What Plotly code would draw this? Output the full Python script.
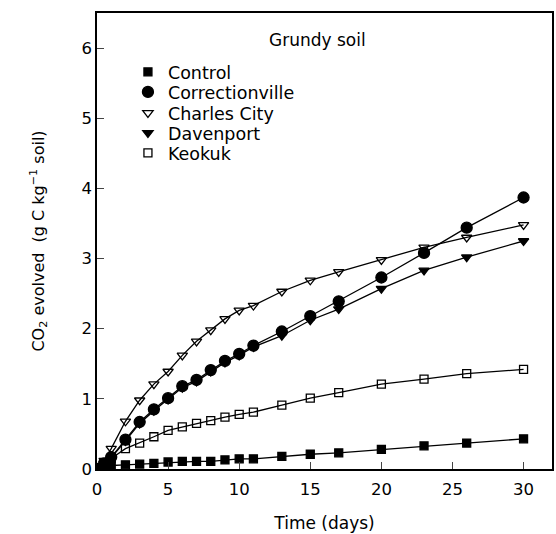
import plotly.graph_objects as go

days = [0, 0.5, 1, 2, 3, 4, 5, 6, 7, 8, 9, 10, 11, 13, 15, 17, 20, 23, 26, 30]

control = [0.0, 0.02, 0.05, 0.06, 0.07, 0.08, 0.10, 0.11, 0.11, 0.11, 0.13, 0.145, 0.145, 0.18, 0.21, 0.23, 0.28, 0.33, 0.37, 0.43]
correctionville = [0.0, 0.08, 0.17, 0.42, 0.67, 0.85, 1.01, 1.18, 1.27, 1.41, 1.54, 1.64, 1.76, 1.96, 2.18, 2.39, 2.73, 3.08, 3.44, 3.87]
charles_city = [0.0, 0.12, 0.29, 0.68, 0.98, 1.21, 1.39, 1.62, 1.82, 1.98, 2.14, 2.26, 2.33, 2.53, 2.69, 2.81, 2.98, 3.16, 3.30, 3.48]
davenport = [0.0, 0.08, 0.16, 0.40, 0.65, 0.83, 0.99, 1.16, 1.25, 1.39, 1.52, 1.62, 1.74, 1.90, 2.12, 2.28, 2.57, 2.83, 3.02, 3.25]
keokuk = [0.0, 0.08, 0.15, 0.29, 0.37, 0.46, 0.55, 0.60, 0.65, 0.69, 0.74, 0.78, 0.81, 0.91, 1.01, 1.09, 1.21, 1.28, 1.36, 1.42]

series_names = ["Control", "Correctionville", "Charles City", "Davenport", "Keokuk"]
series_values = [control, correctionville, charles_city, davenport, keokuk]
symbols = ["square", "circle", "triangle-down-open", "triangle-down", "square-open"]
sizes = [8, 11, 9, 9, 8]

x_ticks = [0, 5, 10, 15, 20, 25, 30]
y_ticks = [0, 1, 2, 3, 4, 5, 6]

FONT = "DejaVu Sans"

PLOT_TOP, PLOT_BOTTOM = 13, 469
PLOT_H = PLOT_BOTTOM - PLOT_TOP
legend_rows_y = [72, 92, 113, 133, 153]  # row centres, pixels
legend_ids = ["legend", "legend2", "legend3", "legend4", "legend5"]

fig = go.Figure()

for name, vals in zip(series_names, series_values):
    fig.add_trace(go.Scatter(x=days, y=vals, mode="lines",
                             line=dict(color="black", width=1.3),
                             showlegend=False, hoverinfo="skip"))

for name, vals, sym, sz, lid in zip(series_names, series_values, symbols, sizes, legend_ids):
    fig.add_trace(go.Scatter(x=days, y=vals, mode="markers", name=name,
                             legend=lid,
                             marker=dict(symbol=sym, size=sz, color="black",
                                         line=dict(color="black", width=1.3))))

fig.add_annotation(text="Grundy soil", xref="paper", yref="paper",
                   x=0.485, y=(PLOT_BOTTOM - 40) / PLOT_H, xanchor="center", yanchor="middle",
                   showarrow=False, font=dict(family=FONT, size=17, color="black"))

legend_layout = {}
for lid, yc in zip(legend_ids, legend_rows_y):
    legend_layout[lid] = dict(x=0.068, y=(PLOT_BOTTOM - yc) / PLOT_H, xanchor="left", yanchor="middle",
                              bgcolor="rgba(0,0,0,0)", font=dict(size=17.5, family=FONT),
                              itemsizing="trace")

fig.update_layout(
    width=556, height=534,
    margin=dict(l=97, r=2, t=PLOT_TOP, b=534 - PLOT_BOTTOM),
    paper_bgcolor="white", plot_bgcolor="white",
    font=dict(family=FONT, size=16, color="black"),
    xaxis=dict(range=[0, 32], tickvals=x_ticks, ticks="inside", ticklen=7,
               showline=True, mirror=True, linecolor="black", linewidth=1.5,
               showgrid=False, zeroline=False, ticklabelstandoff=4,
               title=dict(text="Time (days)", standoff=20, font=dict(size=17)),
               tickfont=dict(size=16.5)),
    yaxis=dict(range=[0, 6.5], tickvals=y_ticks, ticks="inside", ticklen=7,
               showline=True, mirror=True, linecolor="black", linewidth=1.5,
               showgrid=False, zeroline=False,
               title=dict(text="CO<sub>2</sub> evolved  (g C kg<sup>−1</sup> soil)", standoff=33,
                          font=dict(size=16)),
               tickfont=dict(size=16.5)),
    **legend_layout,
)

fig.write_html("out.html", config={"displayModeBar": False},
               post_script="document.body.style.margin='0';")
